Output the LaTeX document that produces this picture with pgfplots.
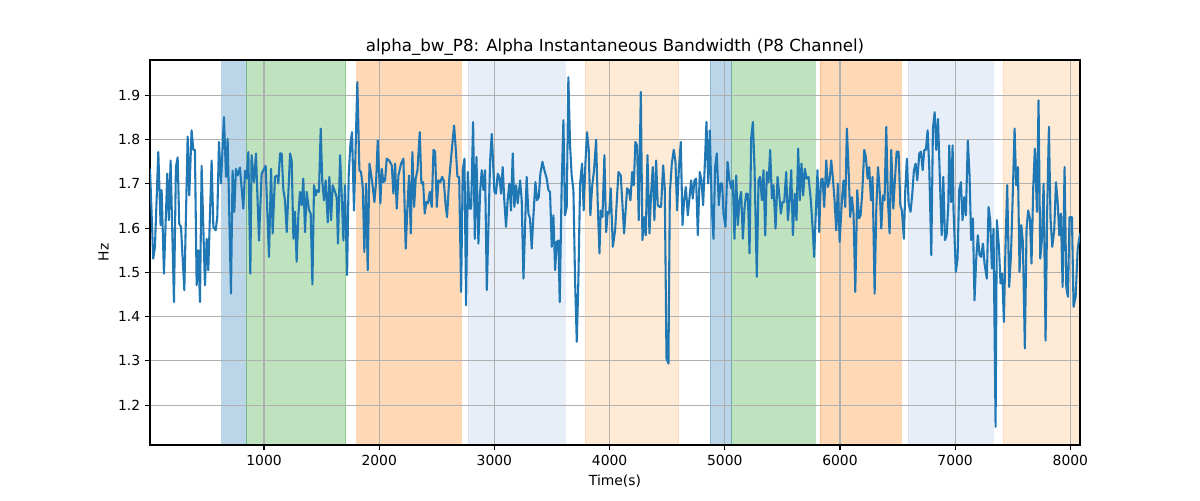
\documentclass[border=0pt]{standalone}
\usepackage{fontspec}
\setmainfont{DejaVu Sans}
\usepackage{pgfplots}
\pgfplotsset{compat=1.18}
\definecolor{tabblue}{HTML}{1F77B4}
\definecolor{tabgreen}{HTML}{2CA02C}
\definecolor{taborange}{HTML}{FF7F0E}
\definecolor{ltblue}{HTML}{AEC7E8}
\definecolor{ltorange}{HTML}{FFBB78}
\begin{document}
\begin{tikzpicture}
\path (-108pt,-39.6pt) rectangle (756pt,320.4pt);
\begin{axis}[
  set layers,
  scale only axis,
  width=669.6pt, height=277.2pt,
  xmin=10, xmax=8084, ymin=1.110, ymax=1.980,
  xtick={1000,2000,3000,4000,5000,6000,7000,8000},
  ytick={1.2,1.3,1.4,1.5,1.6,1.7,1.8,1.9},
  scaled ticks=false,
  grid=major,
  grid style={color=black!31, line width=0.8pt},
  axis line style={line width=0.8pt},
  tick align=outside,
  major tick length=3.5pt,
  tick style={black, line width=0.8pt},
  tick pos=left,
  /pgf/number format/assume math mode=true,
  ticklabel style={font=\fontsize{10}{12}\selectfont},
  xticklabel style={/pgf/number format/1000 sep={}},
  yticklabel style={/pgf/number format/fixed, /pgf/number format/fixed zerofill, /pgf/number format/precision=1},
  title={alpha\_bw\_P8: Alpha Instantaneous Bandwidth (P8 Channel)},
  title style={font=\fontsize{12}{14}\selectfont, yshift=-6.5pt},
  xlabel={Time(s)},
  ylabel={Hz},
  label style={font=\fontsize{10}{12}\selectfont},
  span/.style={on layer=axis background, fill=#1, draw=#1, opacity=0.3, line width=0.5pt},
]
% shaded spans
\addplot[span=tabblue] coordinates {(632,1.11) (632,1.98) (847,1.98) (847,1.11)};
\addplot[span=tabgreen] coordinates {(847,1.11) (847,1.98) (1710,1.98) (1710,1.11)};
\addplot[span=taborange] coordinates {(1805,1.11) (1805,1.98) (2709,1.98) (2709,1.11)};
\addplot[span=ltblue] coordinates {(2770,1.11) (2770,1.98) (3613,1.98) (3613,1.11)};
\addplot[span=ltorange] coordinates {(3786,1.11) (3786,1.98) (4600,1.98) (4600,1.11)};
\addplot[span=tabblue] coordinates {(4872,1.11) (4872,1.98) (5061,1.98) (5061,1.11)};
\addplot[span=tabgreen] coordinates {(5061,1.11) (5061,1.98) (5782,1.98) (5782,1.11)};
\addplot[span=taborange] coordinates {(5828,1.11) (5828,1.98) (6531,1.98) (6531,1.11)};
\addplot[span=ltblue] coordinates {(6593,1.11) (6593,1.98) (7330,1.98) (7330,1.11)};
\addplot[span=ltorange] coordinates {(7418,1.11) (7418,1.98) (8084,1.98) (8084,1.11)};
% signal
\addplot[color=tabblue, line width=1.5pt, line join=round, mark=none] coordinates {
(10,1.734) (38,1.531) (53,1.558) (82,1.772) (102,1.607) (111,1.686) (131,1.497) (160,1.723) (174,1.618) (189,1.753) (218,1.433) (235,1.738) (250,1.760) (264,1.610) (279,1.603) (308,1.460) (337,1.807) (351,1.674) (371,1.821) (386,1.777) (400,1.777) (415,1.471) (429,1.550) (444,1.433) (458,1.741) (487,1.471) (502,1.576) (516,1.505) (545,1.753) (560,1.603) (580,1.595) (594,1.625) (609,1.795) (626,1.701) (652,1.851) (670,1.716) (684,1.802) (713,1.452) (727,1.730) (742,1.637) (756,1.734) (771,1.719) (791,1.737) (820,1.644) (835,1.730) (849,1.712) (864,1.772) (881,1.497) (892,1.765) (913,1.704) (930,1.769) (956,1.572) (979,1.723)
(1014,1.741) (1043,1.535) (1061,1.734) (1075,1.588) (1095,1.716) (1116,1.719) (1124,1.701) (1139,1.769) (1153,1.769) (1168,1.686) (1182,1.663) (1197,1.591) (1211,1.678) (1226,1.769) (1240,1.753) (1255,1.576) (1269,1.637) (1283,1.524) (1298,1.629) (1312,1.682) (1327,1.652) (1341,1.712) (1356,1.591) (1370,1.682) (1391,1.640) (1405,1.633) (1420,1.473) (1434,1.697) (1448,1.674) (1463,1.686) (1477,1.682) (1492,1.825) (1506,1.704) (1521,1.663) (1535,1.708) (1553,1.613) (1567,1.716) (1582,1.618) (1596,1.697) (1616,1.682) (1631,1.670) (1642,1.565) (1660,1.765) (1674,1.678) (1689,1.572) (1703,1.697) (1721,1.494) (1735,1.719) (1750,1.791) (1764,1.817) (1781,1.640) (1796,1.791) (1810,1.930) (1828,1.731) (1842,1.727) (1857,1.693) (1871,1.546) (1886,1.701) (1900,1.505) (1915,1.746) (1929,1.723) (1944,1.693) (1958,1.659) (1973,1.704) (1987,1.798)
(2010,1.656) (2022,1.734) (2036,1.704) (2051,1.708) (2065,1.757) (2086,1.753) (2109,1.742) (2123,1.678) (2138,1.746) (2152,1.644) (2167,1.719) (2190,1.746) (2210,1.757) (2230,1.554) (2245,1.648) (2259,1.719) (2274,1.588) (2288,1.772) (2303,1.648) (2317,1.712) (2332,1.731) (2352,1.817) (2366,1.701) (2381,1.704) (2395,1.633) (2410,1.659) (2424,1.656) (2439,1.682) (2456,1.648) (2471,1.777) (2485,1.773) (2500,1.648) (2514,1.708) (2531,1.704) (2546,1.716) (2560,1.708) (2575,1.656) (2589,1.625) (2607,1.708) (2630,1.777) (2650,1.832) (2665,1.777) (2679,1.716) (2694,1.716) (2711,1.456) (2725,1.731) (2740,1.757) (2754,1.426) (2769,1.727) (2783,1.644) (2798,1.644) (2815,1.840) (2830,1.576) (2844,1.761) (2861,1.565) (2876,1.682) (2890,1.731) (2905,1.686) (2919,1.731) (2934,1.460) (2963,1.753) (2977,1.813)
(3000,1.682) (3014,1.678) (3029,1.723) (3043,1.716) (3058,1.678) (3072,1.738) (3086,1.663) (3101,1.603) (3115,1.663) (3130,1.701) (3144,1.640) (3159,1.769) (3173,1.648) (3188,1.697) (3202,1.656) (3223,1.708) (3237,1.663) (3252,1.486) (3266,1.603) (3280,1.716) (3295,1.633) (3309,1.622) (3324,1.554) (3338,1.625) (3356,1.704) (3370,1.663) (3385,1.670) (3399,1.723) (3417,1.750) (3431,1.734) (3454,1.712) (3469,1.686) (3483,1.682) (3498,1.558) (3512,1.629) (3527,1.505) (3541,1.569) (3556,1.572) (3567,1.433) (3584,1.695) (3599,1.844) (3613,1.629) (3628,1.648) (3642,1.941) (3657,1.787) (3671,1.719) (3686,1.686) (3700,1.486) (3715,1.343) (3729,1.482) (3744,1.701) (3761,1.746) (3775,1.640) (3790,1.746) (3804,1.817) (3819,1.777) (3833,1.629) (3848,1.693) (3865,1.731) (3883,1.800) (3897,1.656) (3912,1.543) (3923,1.640) (3938,1.625) (3955,1.765) (3970,1.591) (3984,1.637)
(3996,1.633) (4010,1.690) (4028,1.558) (4048,1.595) (4077,1.727) (4097,1.719) (4126,1.588) (4152,1.690) (4167,1.686) (4181,1.663) (4196,1.727) (4210,1.697) (4224,1.795) (4239,1.787) (4253,1.618) (4271,1.908) (4285,1.573) (4300,1.625) (4314,1.584) (4329,1.765) (4346,1.588) (4361,1.682) (4375,1.738) (4389,1.618) (4404,1.753) (4418,1.652) (4433,1.648) (4447,1.648) (4465,1.742) (4479,1.690) (4494,1.306) (4511,1.294) (4523,1.678) (4540,1.746) (4557,1.777) (4572,1.750) (4586,1.640) (4601,1.731) (4618,1.795) (4633,1.607) (4647,1.663) (4662,1.693) (4679,1.629) (4693,1.667) (4708,1.708) (4722,1.667) (4737,1.708) (4751,1.712) (4766,1.584) (4783,1.727) (4798,1.708) (4812,1.652) (4827,1.746) (4841,1.840) (4856,1.701) (4870,1.821) (4887,1.648) (4902,1.576) (4916,1.738) (4931,1.769) (4948,1.652) (4963,1.701) (4977,1.701)
(4989,1.633) (5006,1.603) (5024,1.750) (5041,1.708) (5056,1.690) (5070,1.708) (5084,1.576) (5099,1.719) (5113,1.607) (5128,1.663) (5142,1.682) (5157,1.576) (5171,1.644) (5186,1.678) (5200,1.678) (5215,1.543) (5229,1.802) (5244,1.840) (5258,1.738) (5278,1.490) (5293,1.708) (5307,1.716) (5322,1.663) (5336,1.731) (5351,1.584) (5365,1.727) (5380,1.704) (5394,1.777) (5409,1.667) (5423,1.697) (5441,1.599) (5458,1.716) (5472,1.678) (5487,1.633) (5501,1.659) (5516,1.659) (5533,1.727) (5548,1.618) (5562,1.663) (5577,1.731) (5591,1.584) (5608,1.678) (5623,1.618) (5637,1.780) (5652,1.663) (5666,1.746) (5681,1.674) (5695,1.734) (5710,1.712) (5727,1.716) (5747,1.663) (5762,1.603) (5776,1.535) (5791,1.640) (5805,1.731) (5820,1.591) (5834,1.708) (5849,1.712) (5863,1.648) (5881,1.753) (5895,1.693) (5910,1.708) (5924,1.753) (5938,1.716) (5953,1.663) (5968,1.595) (5982,1.701)
(5997,1.569) (6017,1.663) (6031,1.708) (6046,1.648) (6060,1.825) (6075,1.731) (6089,1.625) (6104,1.670) (6118,1.633) (6133,1.456) (6150,1.686) (6165,1.622) (6179,1.629) (6193,1.678) (6211,1.777) (6225,1.761) (6240,1.712) (6254,1.738) (6269,1.663) (6283,1.716) (6301,1.452) (6315,1.640) (6330,1.738) (6344,1.690) (6359,1.599) (6373,1.674) (6387,1.663) (6402,1.829) (6416,1.663) (6431,1.588) (6445,1.777) (6463,1.644) (6477,1.708) (6492,1.773) (6509,1.773) (6524,1.652) (6538,1.640) (6555,1.576) (6567,1.686) (6581,1.757) (6596,1.656) (6613,1.637) (6628,1.678) (6642,1.731) (6657,1.746) (6671,1.708) (6689,1.769) (6703,1.773) (6718,1.731) (6732,1.777) (6746,1.777) (6761,1.821) (6775,1.738) (6793,1.539) (6807,1.825) (6822,1.862) (6836,1.777) (6851,1.847) (6865,1.731) (6883,1.584) (6897,1.716) (6912,1.573) (6926,1.584) (6940,1.648) (6949,1.787) (6964,1.659) (6978,1.787)
(6986,1.640) (7006,1.501) (7021,1.531) (7035,1.686) (7050,1.704) (7064,1.618) (7079,1.670) (7093,1.629) (7110,1.798) (7125,1.719) (7139,1.573) (7154,1.622) (7168,1.437) (7183,1.531) (7197,1.584) (7212,1.539) (7226,1.535) (7241,1.565) (7255,1.520) (7275,1.486) (7290,1.648) (7304,1.618) (7319,1.509) (7333,1.599) (7351,1.151) (7362,1.618) (7380,1.558) (7394,1.475) (7409,1.497) (7423,1.388) (7438,1.569) (7452,1.697) (7469,1.467) (7484,1.535) (7498,1.656) (7516,1.825) (7530,1.697) (7545,1.738) (7559,1.501) (7574,1.607) (7588,1.569) (7605,1.328) (7620,1.599) (7634,1.640) (7649,1.622) (7663,1.520) (7678,1.693) (7692,1.780) (7710,1.637) (7724,1.889) (7739,1.531) (7753,1.573) (7768,1.701) (7785,1.346) (7799,1.640) (7814,1.829) (7828,1.622) (7843,1.558) (7860,1.595) (7875,1.704) (7889,1.663) (7904,1.584) (7918,1.633) (7933,1.467) (7950,1.738) (7965,1.467) (7979,1.445) (7993,1.625) (8014,1.625) (8028,1.422) (8046,1.445) (8064,1.554) (8084,1.588)
};
\end{axis}
\end{tikzpicture}
\end{document}
